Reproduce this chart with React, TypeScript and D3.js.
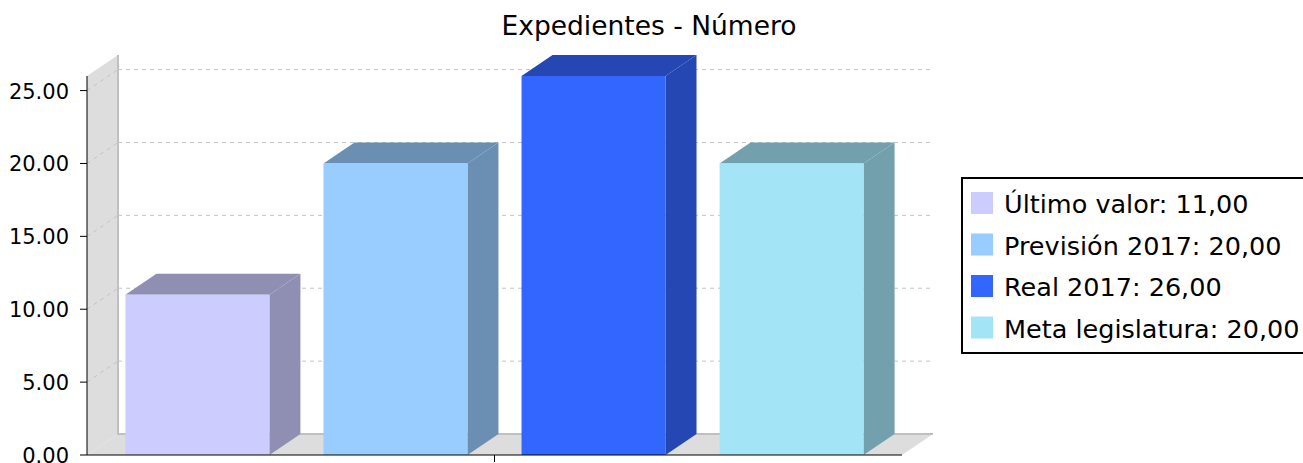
import { useEffect, useRef } from 'react';
import * as d3 from 'd3';

const seriesNames = ['Último valor', 'Previsión 2017', 'Real 2017', 'Meta legislatura'];
const seriesValues = [11, 20, 26, 20];
const seriesColors = ['#ccccff', '#99ccff', '#3366ff', '#a3e4f7'];
const yTicks = [0, 5, 10, 15, 20, 25];
const title = 'Expedientes - Número';

const W = 1303;
const H = 463;
const fmt = (v: number) => v.toFixed(2);
const fmtComma = (v: number) => v.toFixed(2).replace('.', ',');

export default function App() {
  const ref = useRef<SVGSVGElement>(null);

  useEffect(() => {
    if (!ref.current) return;
    const svg = d3.select(ref.current);
    svg.selectAll('*').remove();

    const font = "'DejaVu Sans', sans-serif";
    const left = 87, right = 902, bottom = 455, top = 76;
    const dx = 31, dy = -21;

    const y = d3.scaleLinear().domain([0, 26]).range([bottom, top]);
    const x = d3.scaleBand<number>()
      .domain(d3.range(seriesValues.length))
      .range([left, right])
      .paddingInner(0.273)
      .paddingOuter(0.194);

    // title
    svg.append('text')
      .attr('x', 649).attr('y', 35)
      .attr('text-anchor', 'middle')
      .attr('font-family', font).attr('font-size', 26.5)
      .text(title);

    // left wall
    svg.append('path')
      .attr('d', `M${left},${y(26)}L${left + dx},${y(26) + dy}L${left + dx},${bottom + dy}L${left},${bottom}Z`)
      .attr('fill', '#dddddd');
    // floor
    svg.append('path')
      .attr('d', `M${left},${bottom}L${left + dx},${bottom + dy}L${right + dx},${bottom + dy}L${right},${bottom}Z`)
      .attr('fill', '#dddddd');
    // back edges
    svg.append('path')
      .attr('d', `M${left + dx},${y(26) + dy}L${left + dx},${bottom + dy}L${right + dx},${bottom + dy}`)
      .attr('fill', 'none').attr('stroke', '#c0c0c0').attr('stroke-width', 2);

    // gridlines
    yTicks.filter(t => t > 0).forEach(t => {
      svg.append('line')
        .attr('x1', left + dx).attr('x2', right + dx)
        .attr('y1', y(t) + dy).attr('y2', y(t) + dy)
        .attr('stroke', '#c4c4c4').attr('stroke-dasharray', '4,4');
      svg.append('line')
        .attr('x1', left).attr('x2', left + dx)
        .attr('y1', y(t)).attr('y2', y(t) + dy)
        .attr('stroke', '#c4c4c4').attr('stroke-dasharray', '4,4');
    });

    // bars
    const darker = (c: string) => {
      const r = d3.rgb(c);
      return d3.rgb(r.r * 0.7, r.g * 0.7, r.b * 0.7).toString();
    };
    seriesValues.forEach((v, i) => {
      const x0 = x(i)!;
      const x1 = x0 + x.bandwidth();
      const yt = y(v);
      const dark = darker(seriesColors[i]);
      svg.append('path')
        .attr('d', `M${x1},${yt}L${x1 + dx},${yt + dy}L${x1 + dx},${bottom + dy}L${x1},${bottom}Z`)
        .attr('fill', dark);
      svg.append('path')
        .attr('d', `M${x0},${yt}L${x0 + dx},${yt + dy}L${x1 + dx},${yt + dy}L${x1},${yt}Z`)
        .attr('fill', dark);
      svg.append('rect')
        .attr('x', x0).attr('y', yt)
        .attr('width', x.bandwidth()).attr('height', bottom - yt)
        .attr('fill', seriesColors[i]);
    });

    // y axis
    svg.append('line')
      .attr('x1', left).attr('x2', left).attr('y1', top).attr('y2', bottom)
      .attr('stroke', '#000');
    yTicks.forEach(t => {
      svg.append('line')
        .attr('x1', left - 7).attr('x2', left).attr('y1', y(t)).attr('y2', y(t))
        .attr('stroke', '#000');
      svg.append('text')
        .attr('x', 69).attr('y', y(t) + 8)
        .attr('text-anchor', 'end')
        .attr('font-family', font).attr('font-size', 21)
        .text(fmt(t));
    });

    // x axis
    svg.append('line')
      .attr('x1', left).attr('x2', right).attr('y1', bottom).attr('y2', bottom)
      .attr('stroke', '#000');
    svg.append('line')
      .attr('x1', (left + right) / 2).attr('x2', (left + right) / 2)
      .attr('y1', bottom).attr('y2', bottom + 7)
      .attr('stroke', '#000');

    // legend
    const lg = svg.append('g');
    lg.append('rect')
      .attr('x', 962).attr('y', 178).attr('width', 360).attr('height', 175)
      .attr('fill', '#fff').attr('stroke', '#000').attr('stroke-width', 2);
    seriesNames.forEach((n, i) => {
      const cy = 203 + i * 41.5;
      lg.append('rect')
        .attr('x', 971).attr('y', cy - 11).attr('width', 22).attr('height', 22)
        .attr('fill', seriesColors[i]);
      lg.append('text')
        .attr('x', 1004).attr('y', cy + 10)
        .attr('font-family', font).attr('font-size', 25.5)
        .text(`${n}: ${fmtComma(seriesValues[i])}`);
    });
  }, []);

  return (
    <svg ref={ref} width={W} height={H}
      style={{ position: 'absolute', left: 0, top: 0, background: '#fff' }} />
  );
}
